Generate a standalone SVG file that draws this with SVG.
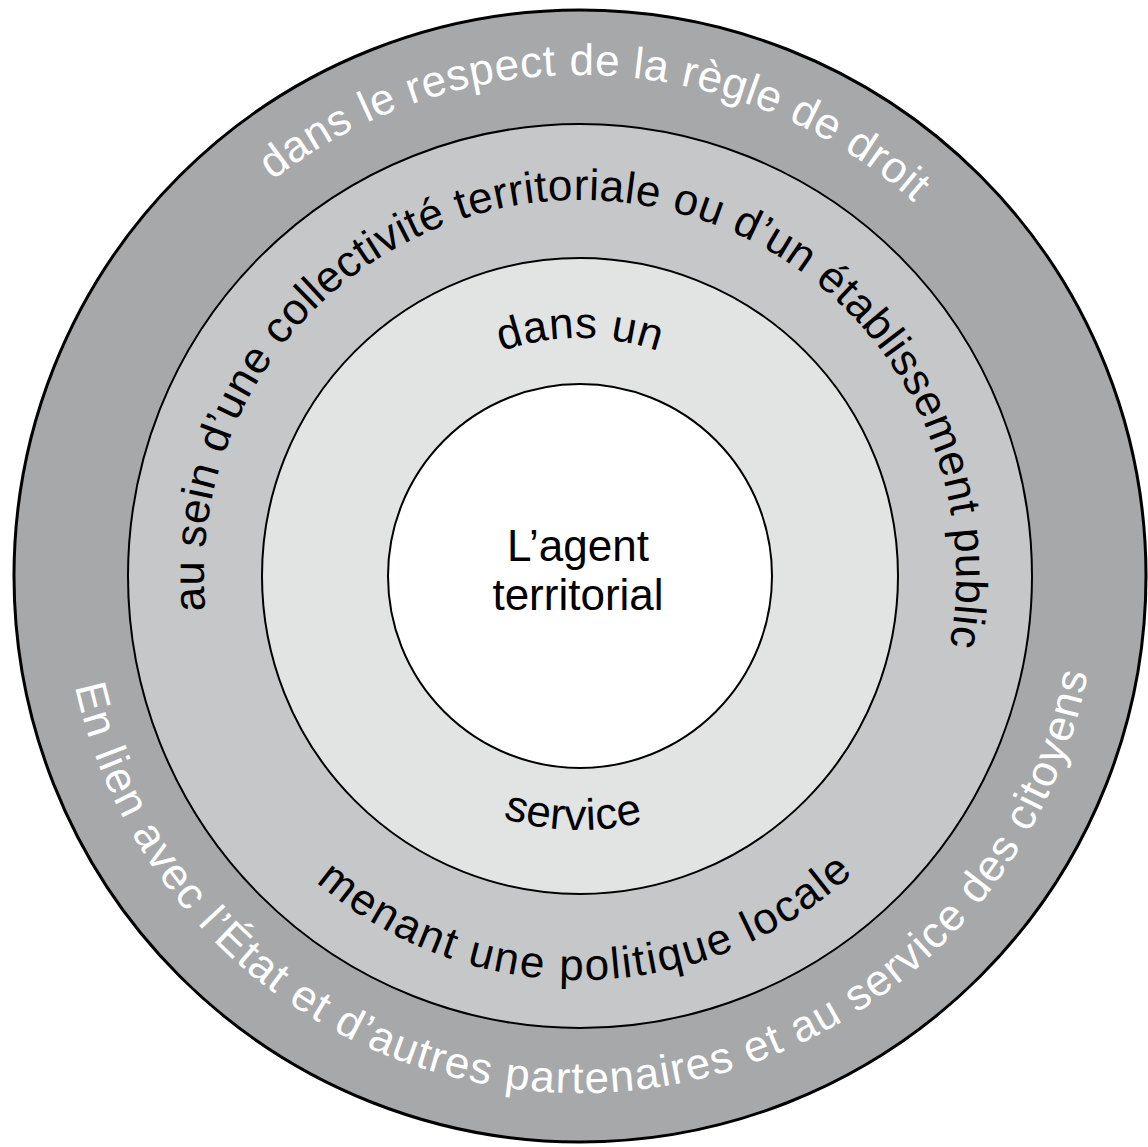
<svg xmlns="http://www.w3.org/2000/svg" width="1148" height="1147" viewBox="0 0 1148 1147">
<style>
.t{font-family:"Liberation Sans",Arial,sans-serif;font-size:44px;}
.w{fill:#ffffff;}
.b{fill:#000000;}
.ring{stroke:#000;stroke-width:2;}
</style>
<defs>
<path id="pOuterTop" d="M580,1077 A501,501 0 1 1 580,75 A501,501 0 1 1 580,1077"/>
<path id="pSein" d="M580,952 A376,376 0 1 1 580,200 A376,376 0 1 1 580,952"/>
<path id="pDans" d="M580,814 A238,238 0 1 1 580,338 A238,238 0 1 1 580,814"/>
<path id="pOuterBot" d="M580,59 A517,517 0 1 0 580,1093 A517,517 0 1 0 580,59"/>
<path id="pMenant" d="M580,172 A404,404 0 1 0 580,980 A404,404 0 1 0 580,172"/>
<path id="pService" d="M580,322 A254,254 0 1 0 580,830 A254,254 0 1 0 580,322"/>
</defs>
<rect width="1148" height="1147" fill="#ffffff"/>
<g id="ring-outer">
<circle cx="580" cy="576" r="566" fill="#a7a8aa" stroke="#000" stroke-width="3"/>
<text class="t w" transform="rotate(2 580 576)" letter-spacing="0.6"><textPath href="#pOuterTop" startOffset="50%" text-anchor="middle">dans le respect de la règle de droit</textPath></text>
<text class="t w" transform="rotate(-0.8 580 576)" letter-spacing="1.4"><textPath href="#pOuterBot" startOffset="50%" text-anchor="middle">En lien avec l’État et d’autres partenaires et au service des citoyens</textPath></text>
</g>
<g id="ring-collectivite">
<circle class="ring" cx="580" cy="576" r="452" fill="#c6c7c9"/>
<text class="t b" transform="rotate(2.75 580 576)" letter-spacing="0.5"><textPath href="#pSein" startOffset="50%" text-anchor="middle">au sein d’une collectivité territoriale ou d’un établissement public</textPath></text>
<text class="t b" transform="rotate(-1 580 576)" letter-spacing="2"><textPath href="#pMenant" startOffset="50%" text-anchor="middle">menant une politique locale</textPath></text>
</g>
<g id="ring-service">
<circle class="ring" cx="580" cy="576" r="318" fill="#e2e3e3"/>
<text class="t b" letter-spacing="0.5"><textPath href="#pDans" startOffset="50%" text-anchor="middle">dans un</textPath></text>
<text class="t b" transform="rotate(1.6 580 576)" letter-spacing="0.5"><textPath href="#pService" startOffset="50%" text-anchor="middle">service</textPath></text>
</g>
<g id="agent">
<circle class="ring" cx="580" cy="576" r="192" fill="#ffffff"/>
<text class="t b" x="578" y="561" text-anchor="middle">L’agent</text>
<text class="t b" x="578" y="610" text-anchor="middle">territorial</text>
</g>
<g id="connectors"/>
</svg>
